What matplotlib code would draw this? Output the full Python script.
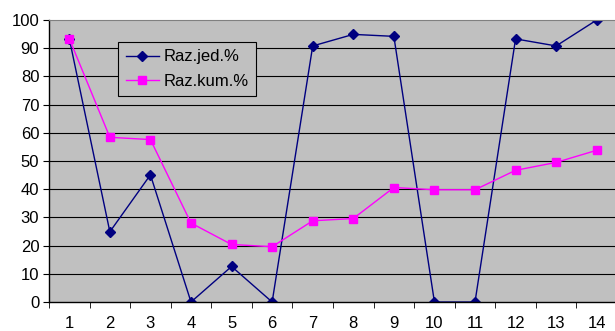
import numpy as np
import matplotlib
matplotlib.use('Agg')
from matplotlib import pyplot as plt

categories = list(range(1, 15))
raz_jed = [93.4, 24.9, 45.1, 0, 12.6, 0, 90.8, 94.9, 94.2, 0, 0, 93.3, 90.8, 100]
raz_kum = [93.4, 58.4, 57.6, 28.0, 20.4, 19.6, 28.8, 29.6, 40.6, 39.8, 39.8, 46.7, 49.5, 53.8]
yticks = list(range(0, 101, 10))

plt.rcParams['font.family'] = ['Liberation Sans', 'DejaVu Sans']

fig = plt.figure(figsize=(6.15, 3.31), dpi=100)
ax = fig.add_axes([49/615, 29/331, 568/615, 282/331])
ax.set_facecolor('#c0c0c0')

x = np.arange(len(categories))
ax.plot(x, raz_jed, color='#000080', marker='D', markersize=5, lw=1.0, label='Raz.jed.%')
ax.plot(x, raz_kum, color='#ff00ff', marker='s', markersize=6, lw=1.0, label='Raz.kum.%')

ax.set_xlim(-0.5, len(categories) - 0.5)
ax.set_ylim(0, 100)
ax.set_yticks(yticks)
ax.set_yticklabels([str(v) for v in yticks], fontsize=12)
ax.set_xticks(x)
ax.set_xticklabels([str(c) for c in categories], fontsize=12)
ax.set_xticks(np.arange(-0.5, len(categories)), minor=True)
ax.tick_params(axis='x', which='major', length=0, pad=10)
ax.tick_params(axis='x', which='minor', length=4, direction='out', color='black')
ax.tick_params(axis='y', length=4, direction='out', color='black', pad=3)
for y in yticks[1:-1]:
    ax.axhline(y, color='black', lw=0.8, zorder=1)
for s in ['left', 'bottom']:
    ax.spines[s].set_color('black')
    ax.spines[s].set_linewidth(1.0)
for s in ['top', 'right']:
    ax.spines[s].set_color('#808080')

leg = ax.legend(loc='upper left', bbox_to_anchor=(69/568, 1 - 22/282), fontsize=12,
                frameon=True, fancybox=False, edgecolor='black', facecolor='#c0c0c0',
                framealpha=1, borderpad=0.45, handlelength=2.0, labelspacing=0.55,
                handletextpad=0.3, borderaxespad=0)
leg.get_frame().set_linewidth(0.8)

fig.savefig('out.png', dpi=100)
